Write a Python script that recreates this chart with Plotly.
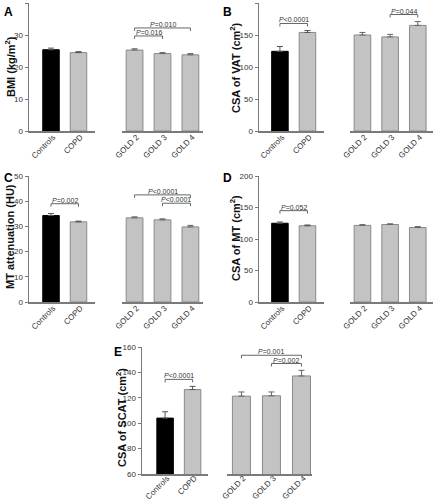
import plotly.graph_objects as go

# ---------------- data ----------------
groups_left = ["Controls", "COPD"]
groups_right = ["GOLD 2", "GOLD 3", "GOLD 4"]

bmi_left = [25.4, 24.5]
bmi_left_err = [0.5, 0.3]
bmi_right = [25.3, 24.2, 23.8]
bmi_right_err = [0.4, 0.3, 0.4]

vat_left = [124.5, 154.0]
vat_left_err = [7.5, 3.0]
vat_right = [150.0, 147.0, 165.0]
vat_right_err = [4.0, 4.0, 6.0]

mta_left = [34.3, 31.8]
mta_left_err = [0.8, 0.3]
mta_right = [33.4, 32.6, 29.8]
mta_right_err = [0.4, 0.4, 0.6]

mt_left = [125.0, 121.0]
mt_left_err = [2.0, 1.2]
mt_right = [121.6, 123.0, 118.2]
mt_right_err = [1.2, 1.2, 1.5]

scat_left = [104.0, 126.5]
scat_left_err = [5.0, 2.5]
scat_right = [121.3, 121.6, 137.2]
scat_right_err = [3.3, 3.0, 4.4]

# brackets: (side, from index, to index, level, label)
bmi_brackets = [("R", 0, 2, 32.2, "=0.010"), ("R", 0, 1, 29.7, "=0.016")]
vat_brackets = [("L", 0, 1, 168, "<0.0001"), ("R", 1, 2, 182, "=0.044")]
mta_brackets = [("L", 0, 1, 39.0, "=0.002"), ("R", 0, 2, 42.5, "<0.0001"),
                ("R", 1, 2, 39.2, "<0.0001")]
mt_brackets = [("L", 0, 1, 145, "=0.052")]
scat_brackets = [("L", 0, 1, 134.5, "<0.0001"), ("R", 0, 2, 153.5, "=0.001"),
                 ("R", 1, 2, 147.0, "=0.002")]

titles = ["BMI (kg/m<sup>2</sup>)", "CSA of VAT (cm<sup>2</sup>)",
          "MT attenuation (HU)", "CSA of MT (cm<sup>2</sup>)",
          "CSA of SCAT (cm<sup>2</sup>)"]
letters = ["A", "B", "C", "D", "E"]
yticks = [[0, 10, 20, 30, 40], [0, 50, 100, 150, 200], [0, 10, 20, 30, 40, 50],
          [0, 50, 100, 150, 200], [60, 80, 100, 120, 140, 160]]

# ---------------- layout geometry (pixels) ----------------
W, H = 439, 500
def fx(p): return p / W
def fy(p): return 1 - p / H

panels = [
    dict(L=(bmi_left, bmi_left_err), R=(bmi_right, bmi_right_err), br=bmi_brackets,
         xl=(29, 95), xr=(122, 203), yd=(131, 3), rl=(-0.8, 1.6), rr=(-0.45, 2.45),
         tx=10, ty=67, lx=2, ly=3, so=-3),
    dict(L=(vat_left, vat_left_err), R=(vat_right, vat_right_err), br=vat_brackets,
         xl=(259, 324), xr=(350, 433), yd=(131, 3), rl=(-0.76, 1.6), rr=(-0.45, 2.55),
         tx=235, ty=68, lx=221, ly=3, so=-3),
    dict(L=(mta_left, mta_left_err), R=(mta_right, mta_right_err), br=mta_brackets,
         xl=(29, 95), xr=(122, 203), yd=(302, 176), rl=(-0.8, 1.6), rr=(-0.45, 2.45),
         tx=10, ty=237, lx=2, ly=169, so=-3),
    dict(L=(mt_left, mt_left_err), R=(mt_right, mt_right_err), br=mt_brackets,
         xl=(259, 324), xr=(350, 433), yd=(302, 176), rl=(-0.76, 1.6), rr=(-0.45, 2.55),
         tx=235, ty=238, lx=221, ly=169, so=-3),
    dict(L=(scat_left, scat_left_err), R=(scat_right, scat_right_err), br=scat_brackets,
         xl=(142, 208), xr=(227, 312), yd=(474, 347), rl=(-0.84, 1.56), rr=(-0.48, 2.35),
         tx=121, ty=418, lx=112, ly=343, so=-5),
]

FONT = "Arial, Liberation Sans, sans-serif"
AX = "#7a7a7a"
GRAY = "#c3c3c3"
EDGE = "#8a8a8a"
TXT = "#333333"

fig = go.Figure()
layout = {}
shapes = []
annotations = []

for i, p in enumerate(panels):
    n = i + 1
    xl_name = f"x{2*i+1}" if i > 0 else "x"
    xr_name = f"x{2*i+2}"
    y_name = f"y{n}" if n > 1 else "y"
    xl_key = "xaxis" if i == 0 else f"xaxis{2*i+1}"
    xr_key = f"xaxis{2*i+2}"
    y_key = "yaxis" if n == 1 else f"yaxis{n}"

    lv, le = p["L"]
    rv, re_ = p["R"]
    fig.add_trace(go.Bar(
        x=groups_left, y=lv, xaxis=xl_name, yaxis=y_name, width=0.6,
        marker=dict(color=["#000000", GRAY], line=dict(color=["#000000", EDGE], width=1)),
        error_y=dict(type="data", array=le, arrayminus=[0] * len(le), symmetric=False,
                     color="#555555", thickness=1, width=3),
        showlegend=False, hoverinfo="skip"))
    fig.add_trace(go.Bar(
        x=groups_right, y=rv, xaxis=xr_name, yaxis=y_name, width=0.6,
        marker=dict(color=GRAY, line=dict(color=EDGE, width=1)),
        error_y=dict(type="data", array=re_, arrayminus=[0] * len(re_), symmetric=False,
                     color="#666666", thickness=1, width=3),
        showlegend=False, hoverinfo="skip"))

    tv = yticks[i]
    yr = (tv[0], tv[-1])
    common_x = dict(type="category", showline=True, linecolor=AX, linewidth=1.5,
                    ticks="", tickangle=-45, showgrid=False, zeroline=False,
                    tickfont=dict(family=FONT, size=8, color=TXT), anchor=y_name,
                    fixedrange=True, automargin=False, ticklabelstandoff=p["so"],
                    ticklabelshift=2)
    layout[xl_key] = dict(common_x, domain=[fx(p["xl"][0]), fx(p["xl"][1])],
                          range=list(p["rl"]))
    layout[xr_key] = dict(common_x, domain=[fx(p["xr"][0]), fx(p["xr"][1])],
                          range=list(p["rr"]))
    layout[y_key] = dict(domain=[fy(p["yd"][0]), fy(p["yd"][1])], range=list(yr),
                         anchor=xl_name, showline=True, linecolor=AX, linewidth=1.5,
                         ticks="outside", ticklen=3, tickcolor=AX, tickwidth=1,
                         tickvals=tv, showgrid=False, zeroline=False, automargin=False,
                         tickfont=dict(family=FONT, size=8, color=TXT))

    # brackets
    pix_h = p["yd"][0] - p["yd"][1]
    drop = 3 * (yr[1] - yr[0]) / pix_h
    for side, a, b, lvl, lab in p["br"]:
        xr_ref = xl_name if side == "L" else xr_name
        for (x0, y0, x1, y1) in [(a, lvl, b, lvl), (a, lvl, a, lvl - drop), (b, lvl, b, lvl - drop)]:
            shapes.append(dict(type="line", xref=xr_ref, yref=y_name, x0=x0, x1=x1,
                               y0=y0, y1=y1, line=dict(color="#666666", width=1)))
        annotations.append(dict(xref=xr_ref, yref=y_name, x=(a + b) / 2, y=lvl,
                                text=f"<i>P</i>{lab}", showarrow=False, yanchor="bottom",
                                yshift=-2, font=dict(family=FONT, size=7, color=TXT)))

    # axis title
    annotations.append(dict(xref="paper", yref="paper", x=fx(p["tx"]), y=fy(p["ty"]),
                            text=f"<b>{titles[i]}</b>", textangle=-90, showarrow=False,
                            xanchor="center", yanchor="middle",
                            font=dict(family=FONT, size=11, color="#111111")))
    # panel letter
    annotations.append(dict(xref="paper", yref="paper", x=fx(p["lx"]), y=fy(p["ly"]),
                            text=f"<b>{letters[i]}</b>", showarrow=False,
                            xanchor="left", yanchor="top",
                            font=dict(family=FONT, size=12, color="#000000")))

fig.update_layout(
    width=W, height=H, margin=dict(l=0, r=0, t=0, b=0, autoexpand=False),
    paper_bgcolor="white", plot_bgcolor="white", bargap=0.4,
    shapes=shapes, annotations=annotations, **layout)

fig.write_html("out.html", config={"displayModeBar": False, "staticPlot": True},
               post_script="document.body.style.margin='0px';")
